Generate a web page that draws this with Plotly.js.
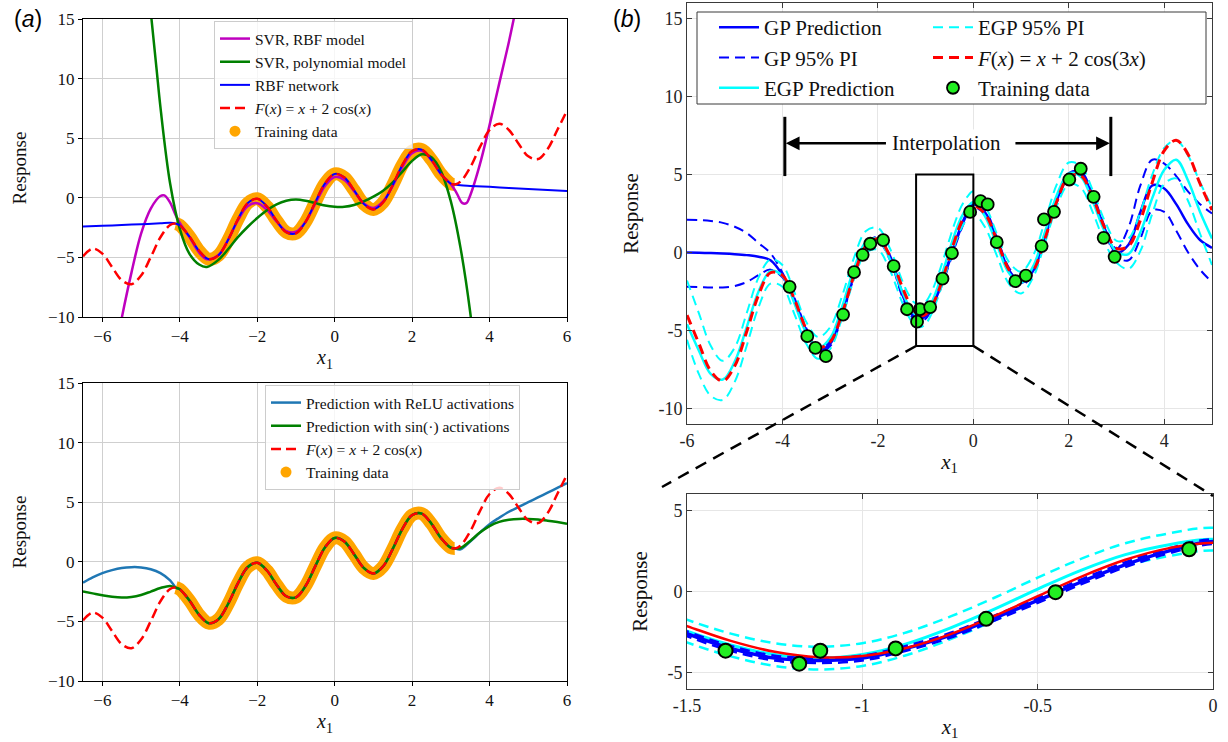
<!DOCTYPE html>
<html><head><meta charset="utf-8">
<script src="https://cdn.plot.ly/plotly-3.0.1.min.js"></script>
<style>html,body{margin:0;padding:0;background:#fff;} #chart{width:1228px;height:742px;}</style>
</head><body><div id="chart"></div>
<script>
// ===================== DATA =====================
// ---- panel (a): true function samples ----
const xA = [-6.5,-6.25,-6,-5.75,-5.5,-5.25,-5,-4.75,-4.5,-4.25,-4.1,-4,-3.75,-3.5,-3.25,-3,-2.75,-2.5,-2.25,-2,-1.75,-1.5,-1.25,-1,-0.75,-0.5,-0.25,0,0.25,0.5,0.75,1,1.25,1.5,1.75,2,2.25,2.5,2.75,3,3.1,3.25,3.5,3.75,4,4.25,4.5,4.75,5,5.25,5.5,5.75,6];
const fA = [-4.91,-4.26,-4.68,-5.81,-6.91,-7.25,-6.52,-4.98,-3.31,-2.28,-2.17,-2.31,-3.25,-4.45,-5.15,-4.82,-3.52,-1.81,-0.46,-0.08,-0.73,-1.92,-2.89,-2.98,-2.01,-0.36,1.21,2.00,1.71,0.64,-0.51,-0.98,-0.39,1.08,2.77,3.92,4.04,3.19,1.98,1.18,1.12,1.36,2.55,4.25,5.69,6.22,5.69,4.53,3.48,3.25,4.09,5.69,7.32];
const trainRangeA = [-4.1, 3.1];

// SVR, RBF model
const svrRbfX = [-5.6,-5.5,-5.25,-5,-4.75,-4.5,-4.4,-4.25,-4.1,-4,-3.75,-3.5,-3.3,-3,-2.75,-2.5,-2.25,-2,-1.75,-1.5,-1.25,-1,-0.75,-0.5,-0.25,0,0.25,0.5,0.75,1,1.25,1.5,1.75,2,2.25,2.5,2.75,3,3.15,3.3,3.4,3.5,3.75,4,4.25,4.5,4.7];
const svrRbfY = [-11.8,-10.1,-6.3,-3.0,-0.9,0.15,0.2,-0.4,-1.5,-2.1,-3.3,-4.6,-5.15,-4.8,-3.5,-1.9,-0.7,-0.45,-1.0,-2.0,-2.8,-2.85,-2.0,-0.5,1.0,1.75,1.5,0.55,-0.45,-0.85,-0.3,1.0,2.6,3.75,3.95,3.15,1.95,1.15,0.4,-0.45,-0.45,0.2,2.8,6.1,9.6,13.1,16.2];
// SVR, polynomial model
const svrPolyX = [-4.75,-4.6,-4.5,-4.25,-4,-3.75,-3.5,-3.3,-3,-2.75,-2.5,-2.25,-2,-1.75,-1.5,-1.25,-1,-0.75,-0.5,-0.25,0,0.25,0.5,0.75,1,1.25,1.5,1.75,2,2.25,2.5,2.75,3,3.25,3.5,3.6];
const svrPolyY = [15.6,10.8,7.6,1.2,-2.6,-4.7,-5.6,-5.8,-5.2,-4.3,-3.3,-2.45,-1.7,-1.05,-0.55,-0.25,-0.15,-0.25,-0.45,-0.65,-0.75,-0.75,-0.6,-0.3,0.1,0.6,1.3,2.2,3.1,3.65,3.4,2.2,-0.3,-4.2,-9.6,-12.5];
// RBF network (outside the training range; inside it follows the training data)
const rbfLeftX = [-6.5,-6,-5.5,-5,-4.5,-4.25];
const rbfLeftY = [-2.40,-2.35,-2.28,-2.22,-2.14,-2.10];
const rbfRightX = [3.25,3.5,4,4.5,5,5.5,6];
const rbfRightY = [1.05,1.00,0.92,0.83,0.74,0.65,0.56];
// bottom-left: ReLU and sin networks outside the training range
const nnLeftX = [-6.5,-6.25,-6,-5.75,-5.5,-5.25,-5,-4.75,-4.5,-4.25];
const reluLeftY = [-1.75,-1.30,-0.95,-0.70,-0.52,-0.45,-0.47,-0.62,-0.95,-1.55];
const sinLeftY = [-2.50,-2.65,-2.80,-2.93,-3.00,-2.95,-2.78,-2.50,-2.20,-2.02];
const nnRightX = [3.25,3.5,3.75,4,4.25,4.5,4.75,5,5.25,5.5,5.75,6];
const reluRightY = [1.05,1.70,2.45,3.15,3.70,4.20,4.60,5.00,5.40,5.80,6.20,6.60];
const sinRightY = [1.15,1.75,2.45,3.00,3.35,3.52,3.60,3.60,3.55,3.45,3.33,3.20];

// ---- panel (b) ----
const xB = [-6,-5.75,-5.5,-5.25,-5,-4.75,-4.5,-4.25,-4,-3.75,-3.5,-3.25,-3,-2.75,-2.5,-2.25,-2,-1.75,-1.5,-1.375,-1.25,-1.125,-1,-0.875,-0.75,-0.625,-0.5,-0.375,-0.25,-0.125,0,0.25,0.5,0.75,1,1.25,1.5,1.75,2,2.25,2.5,2.75,3,3.25,3.5,3.75,4,4.25,4.5,4.75,5];
const fB = [-4.02,-5.84,-7.61,-8.25,-7.28,-5.09,-2.72,-1.30,-1.47,-3.00,-4.93,-6.09,-5.73,-3.91,-1.46,0.43,0.88,-0.21,-2.13,-3.04,-3.71,-4.04,-3.97,-3.48,-2.64,-1.52,-0.29,0.92,1.95,2.67,3.00,2.45,0.71,-1.14,-1.97,-1.21,0.87,3.29,4.88,4.93,3.54,1.59,0.27,0.41,2.07,4.51,6.53,7.20,6.29,4.41,2.72];
const gpMean = [0.00,-0.02,-0.04,-0.07,-0.11,-0.17,-0.27,-0.50,-1.45,-3.05,-5.00,-6.25,-5.85,-3.95,-1.45,0.40,0.85,-0.30,-2.60,-3.50,-4.10,-4.25,-4.10,-3.50,-2.70,-1.65,-0.55,0.60,1.65,2.50,3.07,2.55,0.75,-1.15,-1.95,-1.20,0.95,3.35,4.95,5.05,3.60,1.55,0.00,0.50,2.60,4.30,4.10,3.10,1.80,0.80,0.30];
const gpUpper = [2.10,2.08,2.02,1.90,1.65,1.25,0.60,-0.05,-1.30,-2.90,-4.85,-6.10,-5.70,-3.80,-1.30,0.55,1.00,-0.15,-2.45,-3.35,-3.95,-4.10,-3.95,-3.35,-2.55,-1.50,-0.40,0.75,1.80,2.65,3.22,2.70,0.90,-1.00,-1.80,-1.05,1.10,3.50,5.10,5.20,3.75,1.70,0.25,1.60,4.30,5.95,5.70,4.90,3.90,3.10,2.50];
const gpLower = [-2.20,-2.22,-2.25,-2.24,-2.15,-1.90,-1.45,-1.10,-1.60,-3.20,-5.15,-6.40,-6.00,-4.10,-1.60,0.25,0.70,-0.45,-2.75,-3.65,-4.25,-4.40,-4.25,-3.65,-2.85,-1.80,-0.70,0.45,1.50,2.35,2.92,2.40,0.60,-1.30,-2.10,-1.35,0.80,3.20,4.80,4.90,3.45,1.40,-0.25,-0.50,0.90,2.70,2.60,1.40,0.00,-1.10,-1.90];
const egpMean = [-4.60,-6.30,-7.80,-8.15,-7.00,-4.80,-2.50,-1.20,-1.50,-3.25,-5.16,-6.12,-5.49,-3.49,-1.03,0.68,0.87,-0.43,-2.44,-3.29,-3.88,-4.10,-3.88,-3.22,-2.25,-1.10,0.15,1.32,2.27,2.88,3.22,2.29,0.44,-1.33,-1.93,-0.91,1.31,3.69,5.07,4.86,3.29,1.35,0.05,-0.10,1.30,3.50,5.30,5.95,4.60,2.60,0.90];
const egpUpper = [-1.80,-3.90,-6.00,-6.95,-6.10,-3.90,-1.60,-0.45,-0.80,-2.55,-4.46,-5.42,-4.79,-2.79,-0.33,1.38,1.57,0.27,-1.74,-2.59,-3.18,-3.40,-3.18,-2.52,-1.55,-0.40,0.85,2.02,2.97,3.58,3.92,2.99,1.14,-0.63,-1.23,-0.21,2.01,4.39,5.77,5.56,3.99,2.05,0.75,0.90,2.60,5.00,6.70,7.20,6.20,4.50,2.90];
const egpLower = [-5.60,-7.80,-9.20,-9.45,-8.30,-6.00,-3.50,-2.00,-2.20,-3.95,-5.86,-6.82,-6.19,-4.19,-1.73,-0.02,0.17,-1.13,-3.14,-3.99,-4.58,-4.80,-4.58,-3.92,-2.95,-1.80,-0.55,0.62,1.57,2.18,2.52,1.59,-0.26,-2.03,-2.63,-1.61,0.61,2.99,4.37,4.16,2.59,0.65,-0.65,-1.05,0.10,2.50,4.40,4.75,3.30,1.20,-0.80];
const trainBX = [-3.85,-3.48,-3.31,-3.09,-2.73,-2.50,-2.32,-2.16,-1.89,-1.67,-1.39,-1.18,-1.12,-0.905,-0.647,-0.449,-0.068,0.15,0.30,0.49,0.88,1.10,1.43,1.48,1.69,2.01,2.25,2.52,2.73,2.96];
const trainBY = [-2.20,-5.37,-6.12,-6.65,-3.98,-1.26,-0.15,0.56,0.79,-0.88,-3.64,-4.44,-3.64,-3.50,-1.68,-0.04,2.60,3.29,3.08,0.66,-1.84,-1.48,0.41,2.12,2.61,4.68,5.37,3.57,0.94,-0.28];
const interpBounds = [-3.95, 2.88];
const interpBarY = [4.9, 8.7];
const interpArrowY = 7;
const zoomBoxX = [-1.2, 0];
const zoomBoxY = [-6, 5];

// ===================== BUILD =====================
const W = 1228, H = 742;
const px = v => v / W, py = v => 1 - v / H;
const SERIF = 'Liberation Serif';
const SANS = 'Liberation Sans';

const i0 = xA.indexOf(trainRangeA[0]), i1 = xA.indexOf(trainRangeA[1]);
const trainAX = xA.slice(i0, i1 + 1), trainAY = fA.slice(i0, i1 + 1);
const rbfX = rbfLeftX.concat(trainAX, rbfRightX), rbfY = rbfLeftY.concat(trainAY, rbfRightY);
const reluX = nnLeftX.concat(trainAX, nnRightX), reluY = reluLeftY.concat(trainAY, reluRightY);
const sinX = nnLeftX.concat(trainAX, nnRightX), sinY = sinLeftY.concat(trainAY, sinRightY);

function ln(x, y, color, width, dash, name, extra) {
  return Object.assign({type:'scatter', mode:'lines', x:x, y:y, name:name,
    line:{color:color, width:width, dash:dash || 'solid', shape:'spline', smoothing:1},
    hoverinfo:'skip'}, extra || {});
}
const RED_DASH_A = '10px,5px', DASH_B = '10px,6px';

const traces = [];
// ---- panel (a) top ----
traces.push(ln(trainAX, trainAY, '#ffa500', 13, null, 'Training data', {xaxis:'x', yaxis:'y', showlegend:false}));
traces.push(ln(svrRbfX, svrRbfY, '#bf00bf', 2.5, null, 'SVR, RBF model', {xaxis:'x', yaxis:'y', legend:'legend'}));
traces.push(ln(svrPolyX, svrPolyY, '#008000', 2.5, null, 'SVR, polynomial model', {xaxis:'x', yaxis:'y', legend:'legend'}));
traces.push(ln(rbfX, rbfY, '#0000ff', 2, null, 'RBF network', {xaxis:'x', yaxis:'y', legend:'legend'}));
traces.push(ln(xA, fA, '#ff0000', 2.5, RED_DASH_A, '<i>F</i>(<i>x</i>) = <i>x</i> + 2 cos(<i>x</i>)', {xaxis:'x', yaxis:'y', legend:'legend'}));
traces.push({type:'scatter', mode:'markers', x:[null], y:[null], name:'Training data', xaxis:'x', yaxis:'y', legend:'legend', marker:{color:'#ffa500', size:11}});
// ---- panel (a) bottom ----
traces.push(ln(trainAX, trainAY, '#ffa500', 13, null, 'Training data', {xaxis:'x2', yaxis:'y2', showlegend:false}));
traces.push(ln(reluX, reluY, '#1f77b4', 2.5, null, 'Prediction with ReLU activations', {xaxis:'x2', yaxis:'y2', legend:'legend2'}));
traces.push(ln(sinX, sinY, '#008000', 2.5, null, 'Prediction with sin(·) activations', {xaxis:'x2', yaxis:'y2', legend:'legend2'}));
traces.push(ln(xA, fA, '#ff0000', 2.5, RED_DASH_A, '<i>F</i>(<i>x</i>) = <i>x</i> + 2 cos(<i>x</i>)', {xaxis:'x2', yaxis:'y2', legend:'legend2'}));
traces.push({type:'scatter', mode:'markers', x:[null], y:[null], name:'Training data', xaxis:'x2', yaxis:'y2', legend:'legend2', marker:{color:'#ffa500', size:11}});
// ---- panel (b) top ----
traces.push(ln(xB, gpMean, '#0000ff', 2.5, null, 'GP Prediction', {xaxis:'x3', yaxis:'y3', legend:'legend3'}));
traces.push(ln(xB, gpUpper, '#0000ff', 2, DASH_B, 'GP 95% PI', {xaxis:'x3', yaxis:'y3', legend:'legend3'}));
traces.push(ln(xB, gpLower, '#0000ff', 2, DASH_B, 'GP 95% PI', {xaxis:'x3', yaxis:'y3', showlegend:false}));
traces.push(ln(xB, egpMean, '#00ffff', 2.5, null, 'EGP Prediction', {xaxis:'x3', yaxis:'y3', legend:'legend3'}));
traces.push(ln(xB, egpUpper, '#00ffff', 2, DASH_B, 'EGP 95% PI', {xaxis:'x3', yaxis:'y3', legend:'legend4'}));
traces.push(ln(xB, egpLower, '#00ffff', 2, DASH_B, 'EGP 95% PI', {xaxis:'x3', yaxis:'y3', showlegend:false}));
traces.push(ln(xB, fB, '#ff0000', 3, DASH_B, '<i>F</i>(<i>x</i>) = <i>x</i> + 2 cos(3<i>x</i>)', {xaxis:'x3', yaxis:'y3', legend:'legend4'}));
traces.push({type:'scatter', mode:'markers', x:trainBX, y:trainBY, name:'Training data', xaxis:'x3', yaxis:'y3', legend:'legend4',
  marker:{color:'#22ee22', size:12, line:{color:'#000', width:1.8}}, hoverinfo:'skip'});
// ---- panel (b) zoom ----
traces.push(ln(xB, egpUpper, '#00ffff', 2.5, DASH_B, 'EGP 95% PI', {xaxis:'x4', yaxis:'y4', showlegend:false}));
traces.push(ln(xB, egpLower, '#00ffff', 2.5, DASH_B, 'EGP 95% PI', {xaxis:'x4', yaxis:'y4', showlegend:false}));
traces.push(ln(xB, egpMean, '#00ffff', 3, null, 'EGP Prediction', {xaxis:'x4', yaxis:'y4', showlegend:false}));
traces.push(ln(xB, gpMean, '#0000ff', 3.5, null, 'GP Prediction', {xaxis:'x4', yaxis:'y4', showlegend:false}));
traces.push(ln(xB, gpUpper, '#0000ff', 2.5, DASH_B, 'GP 95% PI', {xaxis:'x4', yaxis:'y4', showlegend:false}));
traces.push(ln(xB, gpLower, '#0000ff', 2.5, DASH_B, 'GP 95% PI', {xaxis:'x4', yaxis:'y4', showlegend:false}));
traces.push(ln(xB, fB, '#ff0000', 2.5, null, 'F(x)', {xaxis:'x4', yaxis:'y4', showlegend:false}));
traces.push({type:'scatter', mode:'markers', x:trainBX, y:trainBY, name:'Training data', xaxis:'x4', yaxis:'y4', showlegend:false,
  marker:{color:'#22ee22', size:14, line:{color:'#000', width:2}}, hoverinfo:'skip'});

// ---- axes ----
function axA(extra) {
  return Object.assign({showline:true, linecolor:'#000', linewidth:1, mirror:true, ticks:'outside', ticklen:4,
    tickcolor:'#000', showgrid:true, gridcolor:'#cfcfcf', gridwidth:1, zeroline:false,
    tickfont:{family:SERIF, size:17, color:'#111'}}, extra);
}
function axB(extra) {
  return Object.assign({showline:true, linecolor:'#3a3a3a', linewidth:1, mirror:'ticks', ticks:'inside', ticklen:5,
    tickcolor:'#3a3a3a', showgrid:true, gridcolor:'#e6e6e6', gridwidth:1, zeroline:false,
    tickfont:{family:SERIF, size:18, color:'#222'}}, extra);
}
const ticksA = [-6,-4,-2,0,2,4,6];
const yTicksA = [-10,-5,0,5,10,15];
const hy = v => String(v); // hyphen minus labels (MATLAB style)

const x1Title = t => ({text:'<i>x</i><sub>1</sub>', font:{family:SERIF, size:t}});
const layout = {
  width:W, height:H, margin:{l:0, r:0, t:0, b:0}, paper_bgcolor:'#fff', plot_bgcolor:'#fff',
  font:{family:SERIF, color:'#111'}, showlegend:true,
  xaxis: axA({domain:[px(83), px(567)], anchor:'y', range:[-6.5, 6], tickvals:ticksA, title:Object.assign(x1Title(20), {standoff:0})}),
  yaxis: axA({domain:[py(317), py(19)], anchor:'x', range:[-10, 15], tickvals:yTicksA, title:{text:'Response', font:{family:SERIF, size:19}, standoff:16}}),
  xaxis2: axA({domain:[px(83), px(567)], anchor:'y2', range:[-6.5, 6], tickvals:ticksA, title:Object.assign(x1Title(20), {standoff:0})}),
  yaxis2: axA({domain:[py(681), py(383)], anchor:'x2', range:[-10, 15], tickvals:yTicksA, title:{text:'Response', font:{family:SERIF, size:19}, standoff:16}}),
  xaxis3: axB({domain:[px(687), px(1212)], anchor:'y3', range:[-6, 5], tickvals:[-6,-4,-2,0,2,4], ticktext:[-6,-4,-2,0,2,4].map(hy), title:Object.assign(x1Title(21), {standoff:4})}),
  yaxis3: axB({domain:[py(424), py(3)], anchor:'x3', range:[-11, 16], tickvals:[-10,-5,0,5,10,15], ticktext:[-10,-5,0,5,10,15].map(hy), title:{text:'Response', font:{family:SERIF, size:21}, standoff:14}}),
  xaxis4: axB({domain:[px(687), px(1213)], anchor:'y4', range:[-1.5, 0], tickvals:[-1.5,-1,-0.5,0], ticktext:[-1.5,-1,-0.5,0].map(hy), title:Object.assign(x1Title(21), {standoff:4})}),
  yaxis4: axB({domain:[py(689), py(494)], anchor:'x4', range:[-6, 6], tickvals:[-5,0,5], ticktext:[-5,0,5].map(hy), title:{text:'Response', font:{family:SERIF, size:21}, standoff:14}}),
  legend: {x:px(214), y:py(21), xanchor:'left', yanchor:'top', bgcolor:'rgba(255,255,255,0.8)', bordercolor:'#cccccc', borderwidth:1,
    font:{family:SERIF, size:15.5, color:'#111'}, tracegroupgap:0},
  legend2: {x:px(265), y:py(385), xanchor:'left', yanchor:'top', bgcolor:'rgba(255,255,255,0.8)', bordercolor:'#cccccc', borderwidth:1,
    font:{family:SERIF, size:15.5, color:'#111'}, tracegroupgap:0},
  legend3: {x:px(714), y:py(7), xanchor:'left', yanchor:'top', bgcolor:'rgba(0,0,0,0)', borderwidth:0, itemwidth:40,
    font:{family:SERIF, size:21, color:'#111'}, tracegroupgap:0},
  legend4: {x:px(928), y:py(7), xanchor:'left', yanchor:'top', bgcolor:'rgba(0,0,0,0)', borderwidth:0, itemwidth:40,
    font:{family:SERIF, size:21, color:'#111'}, tracegroupgap:0},
  shapes: [
    // legend frame of panel (b)
    {type:'rect', xref:'paper', yref:'paper', x0:px(697), x1:px(1206), y0:py(104), y1:py(12), line:{color:'#3a3a3a', width:1}, fillcolor:'#fff', layer:'above'},
    // interpolation bars
    {type:'line', xref:'x3', yref:'y3', x0:interpBounds[0], x1:interpBounds[0], y0:interpBarY[0], y1:interpBarY[1], line:{color:'#000', width:3}},
    {type:'line', xref:'x3', yref:'y3', x0:interpBounds[1], x1:interpBounds[1], y0:interpBarY[0], y1:interpBarY[1], line:{color:'#000', width:3}},
    // zoom rectangle
    {type:'rect', xref:'x3', yref:'y3', x0:zoomBoxX[0], x1:zoomBoxX[1], y0:zoomBoxY[0], y1:zoomBoxY[1], line:{color:'#000', width:2}},
    // connectors
    {type:'line', xref:'paper', yref:'paper', x0:px(916), y0:py(346), x1:px(662), y1:py(487), line:{color:'#000', width:2.5, dash:'12px,8px'}},
    {type:'line', xref:'paper', yref:'paper', x0:px(973.5), y0:py(346), x1:px(1213), y1:py(496), line:{color:'#000', width:2.5, dash:'12px,8px'}}
  ],
  annotations: [
    {xref:'paper', yref:'paper', x:px(12), y:py(4), xanchor:'left', yanchor:'top', text:'(<i>a</i>)', showarrow:false, font:{family:SANS, size:23, color:'#000'}},
    {xref:'paper', yref:'paper', x:px(611), y:py(4), xanchor:'left', yanchor:'top', text:'(<i>b</i>)', showarrow:false, font:{family:SANS, size:23, color:'#000'}},
    {xref:'x3', yref:'y3', x:(interpBounds[0] + interpBounds[1]) / 2 - 0.02, y:interpArrowY, text:'Interpolation', showarrow:false, bgcolor:'#fff', font:{family:SERIF, size:21, color:'#111'}},
    {xref:'x3', yref:'y3', axref:'x3', ayref:'y3', x:interpBounds[0] + 0.02, y:interpArrowY, ax:-1.8, ay:interpArrowY, text:'', showarrow:true, arrowhead:2, arrowsize:1.1, arrowwidth:2.5, arrowcolor:'#000'},
    {xref:'x3', yref:'y3', axref:'x3', ayref:'y3', x:interpBounds[1] - 0.02, y:interpArrowY, ax:0.85, ay:interpArrowY, text:'', showarrow:true, arrowhead:2, arrowsize:1.1, arrowwidth:2.5, arrowcolor:'#000'}
  ]
};

Plotly.newPlot('chart', traces, layout, {staticPlot:true, displayModeBar:false});
</script></body></html>
